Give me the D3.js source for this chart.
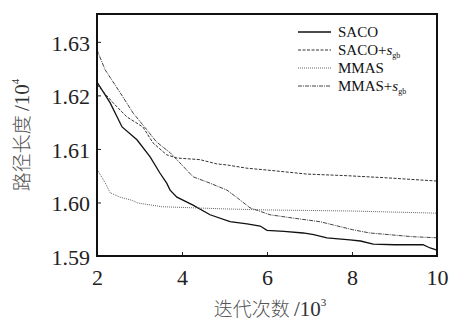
<!DOCTYPE html>
<html>
<head>
<meta charset="utf-8">
<script src="https://cdn.jsdelivr.net/npm/d3@7"></script>
<style>
  body { margin: 0; background: #fff; }
  text { font-family: "Liberation Serif", "DejaVu Serif", serif; }
</style>
</head>
<body>
<div id="chart"></div>
<script>
// iterations (x 10^3) and route length (x 10^4) for each algorithm
const sacoT = [2.0, 2.31, 2.59, 2.94, 3.25, 3.48, 3.64, 3.72, 3.88, 4.26, 4.66, 5.13, 5.53, 5.84, 6.0, 6.4, 6.85, 7.1, 7.41, 7.95, 8.2, 8.5, 9.0, 9.67, 9.84, 10.0];
const sacoV = [1.6225, 1.6186, 1.6141, 1.6117, 1.6085, 1.6055, 1.6036, 1.6023, 1.6010, 1.5995, 1.5977, 1.5964, 1.5960, 1.5956, 1.5948, 1.5946, 1.5943, 1.5940, 1.5934, 1.5930, 1.5928, 1.5922, 1.5921, 1.5921, 1.5915, 1.5911];

const sacoSgbT = [2.0, 2.38, 2.7, 3.08, 3.32, 3.64, 3.88, 4.42, 4.82, 5.06, 5.53, 6.07, 6.94, 7.88, 8.82, 10.0];
const sacoSgbV = [1.6220, 1.6186, 1.6160, 1.6141, 1.6111, 1.6089, 1.6083, 1.6080, 1.6072, 1.6070, 1.6064, 1.6060, 1.6053, 1.6050, 1.6046, 1.6040];

const mmasT = [2.0, 2.19, 2.31, 2.54, 2.82, 2.96, 3.53, 4.26, 5.0, 6.0, 7.0, 8.0, 9.0, 10.0];
const mmasV = [1.6062, 1.6037, 1.6018, 1.6010, 1.6004, 1.5999, 1.5992, 1.5990, 1.5988, 1.5986, 1.5985, 1.5984, 1.5982, 1.5980];

const mmasSgbT = [2.0, 2.19, 2.61, 2.85, 3.17, 3.4, 3.72, 3.95, 4.26, 4.66, 5.06, 5.36, 5.6, 6.07, 6.6, 7.25, 8.02, 8.42, 9.43, 10.0];
const mmasSgbV = [1.6285, 1.6248, 1.6197, 1.6167, 1.6136, 1.6113, 1.6093, 1.6074, 1.6048, 1.6036, 1.6023, 1.6005, 1.5990, 1.5977, 1.5971, 1.5964, 1.5949, 1.5943, 1.5936, 1.5934];

const xTicks = [2, 4, 6, 8, 10];
const yTicks = [1.59, 1.60, 1.61, 1.62, 1.63];

const series = [
    { name: "SACO", sub: false, t: sacoT, v: sacoV, color: "#111", width: 1.3, dash: null },
    { name: "SACO+", sub: true, t: sacoSgbT, v: sacoSgbV, color: "#333", width: 1, dash: "3,1.5" },
    { name: "MMAS", sub: false, t: mmasT, v: mmasV, color: "#666", width: 1, dash: "1,1" },
    { name: "MMAS+", sub: true, t: mmasSgbT, v: mmasSgbV, color: "#444", width: 1, dash: "4,1,1,1" }
];

const margin = { top: 14, right: 21, bottom: 66, left: 97 },
    width = 458 - margin.left - margin.right,
    height = 322 - margin.top - margin.bottom;

const svg = d3.select("#chart")
    .append("svg")
    .attr("width", 458)
    .attr("height", 322)
    .append("g")
    .attr("transform", `translate(${margin.left}, ${margin.top})`);

const x = d3.scaleLinear().domain([2, 10]).range([0, width]);
const y = d3.scaleLinear().domain([1.59, 1.6352]).range([height, 0]);

// curves
const line = d3.line()
    .x(d => x(d[0]))
    .y(d => y(d[1]));

svg.append("defs").append("clipPath").attr("id", "clip")
    .append("rect").attr("width", width).attr("height", height);

series.forEach(s => {
    svg.append("path")
        .datum(d3.zip(s.t, s.v))
        .attr("clip-path", "url(#clip)")
        .attr("fill", "none")
        .attr("stroke", s.color)
        .attr("stroke-width", s.width)
        .attr("stroke-dasharray", s.dash)
        .attr("d", line);
});

// axes, ticks pointing inward
const xAxis = svg.append("g")
    .attr("transform", `translate(0, ${height})`)
    .call(d3.axisBottom(x).tickValues(xTicks).tickSizeInner(-4).tickSizeOuter(0).tickPadding(9).tickFormat(d3.format("d")));
const yAxis = svg.append("g")
    .call(d3.axisLeft(y).tickValues(yTicks).tickSizeInner(-4).tickSizeOuter(0).tickPadding(7).tickFormat(d3.format(".2f")));

[xAxis, yAxis].forEach(a => {
    a.select(".domain").remove();
    a.selectAll(".tick line").attr("stroke", "#222").attr("stroke-width", 1);
    a.selectAll(".tick text")
        .attr("font-family", "Liberation Serif")
        .attr("font-size", "22px")
        .attr("fill", "#222");
});
xAxis.selectAll(".tick text").attr("dy", "0.9em");
yAxis.selectAll(".tick text").attr("dy", "0.38em");

// frame
svg.append("rect")
    .attr("width", width)
    .attr("height", height)
    .attr("fill", "none")
    .attr("stroke", "#111")
    .attr("stroke-width", 2);

// axis titles
const cjk = "'Noto Sans CJK SC', 'Liberation Serif', serif";
const xTitle = svg.append("text")
    .attr("x", width / 2 + 3)
    .attr("y", height + 60)
    .attr("text-anchor", "middle")
    .attr("font-size", "19px")
    .attr("fill", "#555");
xTitle.append("tspan").attr("font-family", cjk).attr("font-weight", 300).text("迭代次数 ");
xTitle.append("tspan").attr("font-family", "Liberation Serif").attr("font-size", "21px").attr("fill", "#333").text("/10");
xTitle.append("tspan").attr("font-family", "Liberation Serif").attr("font-size", "11px").attr("fill", "#333").attr("dy", "-0.9em").text("3");

const yTitle = svg.append("text")
    .attr("transform", `translate(${-68}, ${height / 2}) rotate(-90)`)
    .attr("text-anchor", "middle")
    .attr("font-size", "19px")
    .attr("fill", "#555");
yTitle.append("tspan").attr("font-family", cjk).attr("font-weight", 300).text("路径长度 ");
yTitle.append("tspan").attr("font-family", "Liberation Serif").attr("font-size", "21px").attr("fill", "#333").text("/10");
yTitle.append("tspan").attr("font-family", "Liberation Serif").attr("font-size", "11px").attr("fill", "#333").attr("dy", "-0.9em").text("4");

// legend
const legend = svg.append("g").attr("transform", `translate(${width - 139}, 18)`);
series.forEach((s, i) => {
    const row = legend.append("g").attr("transform", `translate(0, ${i * 18})`);
    row.append("line")
        .attr("x1", 0).attr("x2", 33)
        .attr("stroke", s.color)
        .attr("stroke-width", s.width)
        .attr("stroke-dasharray", s.dash);
    const label = row.append("text")
        .attr("x", 40)
        .attr("dy", "0.35em")
        .attr("font-size", "15px")
        .attr("fill", "#111")
        .text(s.name);
    if (s.sub) {
        label.append("tspan").attr("font-style", "italic").text("s");
        label.append("tspan").attr("font-size", "8px").attr("dy", "0.4em").text("gb");
    }
});
</script>
</body>
</html>
